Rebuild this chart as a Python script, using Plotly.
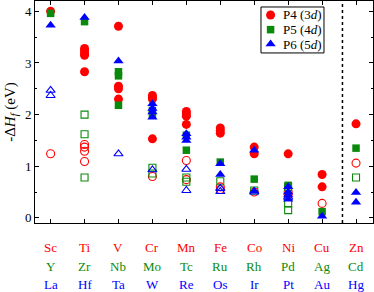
import plotly.graph_objects as go

# Column labels (three rows: 3d, 4d, 5d elements)
row_3d = ["Sc", "Ti", "V", "Cr", "Mn", "Fe", "Co", "Ni", "Cu", "Zn"]
row_4d = ["Y", "Zr", "Nb", "Mo", "Tc", "Ru", "Rh", "Pd", "Ag", "Cd"]
row_5d = ["La", "Hf", "Ta", "W", "Re", "Os", "Ir", "Pt", "Au", "Hg"]

# P4 (3d) filled
p4_x = ["Sc", "Ti", "Ti", "Ti", "Ti", "Ti", "V", "V", "V", "V", "Cr", "Cr", "Cr", "Cr",
        "Mn", "Mn", "Mn", "Mn", "Fe", "Fe", "Fe", "Co", "Co", "Ni", "Cu", "Cu", "Zn"]
p4_y = [4.00, 3.28, 3.24, 3.19, 3.15, 2.83, 3.71, 2.55, 2.50, 2.30, 2.37, 2.33, 2.30, 1.53,
        2.06, 2.01, 1.97, 1.81, 1.74, 1.69, 1.64, 1.37, 1.24, 1.24, 0.84, 0.60, 1.82]

# P5 (4d) filled
p5_x = ["Sc", "Ti", "V", "V", "V", "Cr", "Cr", "Mn", "Mn", "Fe", "Co", "Ni", "Cu", "Zn"]
p5_y = [3.96, 3.80, 2.83, 2.75, 2.18, 2.08, 2.00, 1.60, 1.31, 1.08, 0.75, 0.63, 0.12, 1.35]

# P6 (5d) filled
p6_x = ["Sc", "Ti", "V", "Cr", "Cr", "Cr", "Cr", "Mn", "Mn", "Mn", "Fe", "Fe", "Co", "Co",
        "Ni", "Ni", "Ni", "Ni", "Cu", "Zn", "Zn"]
p6_y = [3.73, 3.88, 3.04, 2.21, 2.12, 2.05, 1.95, 1.63, 1.56, 1.50, 1.05, 0.84, 1.31, 0.52,
        0.60, 0.50, 0.44, 0.36, 0.03, 0.49, 0.30]

# Open symbols
p4o_x = ["Sc", "Ti", "Ti", "Ti", "Ti", "Cr", "Mn", "Mn", "Fe", "Fe", "Co", "Ni", "Ni", "Cu", "Zn"]
p4o_y = [1.24, 1.42, 1.37, 1.29, 1.09, 0.80, 1.11, 0.74, 0.60, 0.55, 0.50, 0.50, 0.45, 0.28, 1.06]

p5o_x = ["Ti", "Ti", "Ti", "Cr", "Cr", "Mn", "Mn", "Fe", "Co", "Ni", "Ni", "Ni", "Zn"]
p5o_y = [2.00, 1.62, 0.78, 0.97, 0.86, 0.78, 0.70, 0.71, 0.53, 0.60, 0.28, 0.15, 0.78]

p6o_x = ["Sc", "Sc", "V", "Cr", "Mn", "Mn", "Fe", "Fe", "Co", "Ni"]
p6o_y = [2.47, 2.37, 1.24, 0.93, 0.94, 0.53, 0.57, 0.51, 0.50, 0.40]

# legend entries
legend_names = ["P4 (3<i>d</i>)", "P5 (4<i>d</i>)", "P6 (5<i>d</i>)"]

RED, GREEN, BLUE = "#ff0000", "#0a8a0a", "#0000ff"
FONT = "Liberation Serif"

fig = go.Figure()

def add(x, y, color, symbol, size, open_=False):
    if open_:
        marker = dict(symbol=symbol + "-open", size=size, color=color, line=dict(width=1.1, color=color))
    else:
        marker = dict(symbol=symbol, size=size, color=color, line=dict(width=0))
    fig.add_trace(go.Scatter(x=x, y=y, mode="markers", marker=marker, showlegend=False,
                             hoverinfo="skip"))

add(p4o_x, p4o_y, RED, "circle", 8, open_=True)
add(p5o_x, p5o_y, GREEN, "square", 7, open_=True)
add(p6o_x, p6o_y, BLUE, "triangle-up", 8, open_=True)
add(p4_x, p4_y, RED, "circle", 9)
add(p5_x, p5_y, GREEN, "square", 7.5)
add(p6_x, p6_y, BLUE, "triangle-up", 9)

# dotted separator between Cu and Zn
fig.add_shape(type="line", xref="x", yref="paper", x0=8.6, x1=8.6, y0=0, y1=1,
              line=dict(color="black", width=1.5, dash="dot"))

# three rows of element labels under the axis
for row, color, ypos in [(row_3d, RED, -0.109), (row_4d, GREEN, -0.194), (row_5d, BLUE, -0.276)]:
    for i, name in enumerate(row):
        fig.add_annotation(x=row_3d[i], y=ypos, xref="x", yref="paper",
                           text=name, showarrow=False, yanchor="middle",
                           font=dict(family=FONT, size=13, color=color))

# legend box (drawn manually to match the compact layout)
LX0, LX1, LY0, LY1 = 0.6686, 0.855, 0.766, 0.973
key_x = 0.697
text_x = 0.727
rows_y = [0.937, 0.871, 0.806]
fig.add_shape(type="rect", xref="paper", yref="paper", x0=LX0, x1=LX1, y0=LY0, y1=LY1,
              line=dict(color="black", width=1), fillcolor="white", layer="below")
for sym, col, size, yy in [("circle", RED, 9, rows_y[0]), ("square", GREEN, 7.5, rows_y[1]),
                           ("triangle-up", BLUE, 9, rows_y[2])]:
    fig.add_trace(go.Scatter(x=[key_x], y=[yy], xaxis="x2", yaxis="y2", mode="markers",
                             marker=dict(symbol=sym, size=size, color=col, line=dict(width=0)),
                             showlegend=False, hoverinfo="skip"))
for name, yy in zip(legend_names, rows_y):
    fig.add_annotation(x=text_x, y=yy, xref="paper", yref="paper", text=name, showarrow=False,
                       xanchor="left", yanchor="middle", font=dict(family=FONT, size=13, color="black"))

axis_common = dict(showline=True, linecolor="black", linewidth=1, mirror="ticks",
                   ticks="inside", ticklen=4, tickcolor="black", showgrid=False, zeroline=False)

fig.update_xaxes(type="category", categoryorder="array", categoryarray=row_3d,
                 range=[-0.46, 9.5], showticklabels=False, **axis_common)
fig.update_yaxes(range=[-0.1, 4.2], tickvals=[0, 1, 2, 3, 4],
                 minor=dict(tickvals=[0.5, 1.5, 2.5, 3.5], ticks="inside", ticklen=2, tickcolor="black"),
                 tickfont=dict(family=FONT, size=13, color="black"),
                 title=dict(text="-Δ<i>H<sub>f</sub></i> (eV)", font=dict(family=FONT, size=15, color="black"),
                            standoff=5),
                 **axis_common)

fig.update_layout(
    width=374, height=292,
    margin=dict(l=35, r=1, t=1, b=69),
    plot_bgcolor="white", paper_bgcolor="white",
    font=dict(family=FONT, size=13, color="black"),
    showlegend=False,
    xaxis2=dict(domain=[0, 1], range=[0, 1], overlaying="x", anchor="y2", visible=False,
                fixedrange=True),
    yaxis2=dict(domain=[0, 1], range=[0, 1], overlaying="y", anchor="x2", visible=False,
                fixedrange=True),
)

fig.write_html("out.html", config={"displayModeBar": False},
               post_script="document.body.style.margin='0';document.body.style.overflow='hidden';")
